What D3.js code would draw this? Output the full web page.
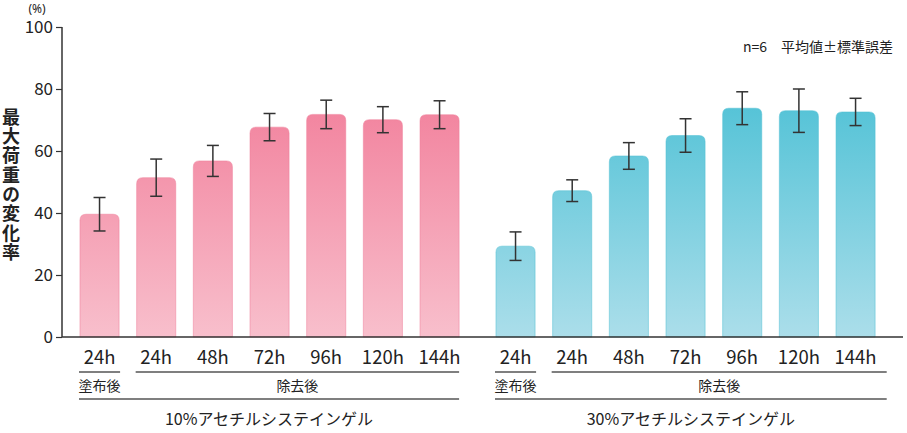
<!DOCTYPE html>
<html><head><meta charset="utf-8">
<script src="https://cdn.jsdelivr.net/npm/d3@7"></script>
<style>body{margin:0;background:#fff}text{font-family:"Noto Sans CJK JP","Noto Sans",sans-serif;fill:#222}</style>
</head><body><svg id="c" width="907" height="433"></svg>
<script>
const categories = ["24h","24h","48h","72h","96h","120h","144h"];
const groupNames = ["10%アセチルシステインゲル","30%アセチルシステインゲル"];
const phaseLabels = ["塗布後","除去後"];
const mean10 = [39.6,51.4,56.8,67.7,71.8,70.1,71.7];
const err10  = [5.4,6.0,5.0,4.4,4.6,4.2,4.5];
const mean30 = [29.3,47.2,58.4,65.0,73.8,73.0,72.6];
const err30  = [4.6,3.5,4.3,5.4,5.3,7.0,4.4];
const yTicks = [0,20,40,60,80,100];

const svg = d3.select("#c");
const y = d3.scaleLinear().domain([0,100]).range([337,27]);
const idx = d3.range(categories.length);
const xL = d3.scaleBand().domain(idx).range([71.2,467.9]).paddingInner(0.31).paddingOuter(0.155);
const xR = d3.scaleBand().domain(idx).range([487.2,883.9]).paddingInner(0.31).paddingOuter(0.155);

const defs = svg.append("defs");
function grad(id, top, bot){
  const g = defs.append("linearGradient").attr("id",id).attr("gradientUnits","userSpaceOnUse")
    .attr("x1",0).attr("x2",0).attr("y1",y(75)).attr("y2",y(0));
  g.append("stop").attr("offset","0%").attr("stop-color",top);
  g.append("stop").attr("offset","100%").attr("stop-color",bot);
}
grad("gp","#f2839e","#f8bfcc");
grad("gb","#55c3d7","#abdeea");

// y axis
const ax = svg.append("g").attr("transform","translate(62,0)")
  .call(d3.axisLeft(y).tickValues(yTicks).tickSize(6).tickPadding(3));
ax.select(".domain").attr("d","M0,"+y(100)+"V"+y(0)).attr("stroke","#333").attr("stroke-width",1.5);
ax.selectAll(".tick line").attr("stroke","#333").attr("stroke-width",1.2);
ax.selectAll(".tick text").attr("font-size",17).style("fill","#222").attr("font-family","'Noto Sans',sans-serif");
svg.append("text").attr("x",37).attr("y",13).attr("text-anchor","middle").attr("font-size",12)
  .style("font-family","'Noto Sans',sans-serif").text("(%)");

// y title vertical
svg.append("text").attr("x",11).attr("y",108).attr("font-size",18).attr("font-weight","bold")
  .style("writing-mode","vertical-rl").style("letter-spacing","1.3px").text("最大荷重の変化率");

svg.append("text").attr("x",893).attr("y",52).attr("text-anchor","end").attr("font-size",14).text("n=6　平均値±標準誤差");

function roundTop(x0,w,yt,yb,r){
  r = Math.min(r, (yb-yt));
  return `M${x0},${yb}V${yt+r}Q${x0},${yt} ${x0+r},${yt}H${x0+w-r}Q${x0+w},${yt} ${x0+w},${yt+r}V${yb}Z`;
}

function drawGroup(x, means, errs, fill, stroke, gi){
  const g = svg.append("g");
  g.selectAll("path.bar").data(idx).join("path").attr("class","bar")
    .attr("d",i=>roundTop(x(i),x.bandwidth(),y(means[i]),y(0),6))
    .attr("fill",fill).attr("stroke",stroke).attr("stroke-width",1).attr("stroke-opacity",0.5);
  const e = g.selectAll("g.err").data(idx).join("g").attr("class","err")
    .attr("stroke","#333").attr("stroke-width",1.5);
  const cx = i=>x(i)+x.bandwidth()/2;
  e.append("line").attr("x1",cx).attr("x2",cx).attr("y1",i=>y(means[i]+errs[i])).attr("y2",i=>y(means[i]-errs[i]));
  e.append("line").attr("x1",i=>cx(i)-6).attr("x2",i=>cx(i)+6).attr("y1",i=>y(means[i]+errs[i])).attr("y2",i=>y(means[i]+errs[i]));
  e.append("line").attr("x1",i=>cx(i)-6).attr("x2",i=>cx(i)+6).attr("y1",i=>y(means[i]-errs[i])).attr("y2",i=>y(means[i]-errs[i]));
  g.selectAll("text.cat").data(idx).join("text").attr("class","cat")
    .attr("x",cx).attr("y",364).attr("text-anchor","middle").attr("font-size",18.5)
    .attr("font-family","'Noto Sans',sans-serif").style("fill","#222").text(i=>categories[i]);
  const x0 = x(0)-1, x1 = x(0)+x.bandwidth()+1, x2 = x(1)-1, x3 = x.range()[1] - (gi? -2.8 : 8.8);
  const ln = (a,b,yy)=>g.append("line").attr("x1",a).attr("x2",b).attr("y1",yy).attr("y2",yy).attr("stroke","#555").attr("stroke-width",1.5);
  ln(x0,x1,372); ln(x2,x3,372); ln(x0,x3,399);
  g.append("text").attr("x",(x0+x1)/2).attr("y",391).attr("text-anchor","middle").attr("font-size",14).text(phaseLabels[0]);
  g.append("text").attr("x",(x2+x3)/2).attr("y",391).attr("text-anchor","middle").attr("font-size",14).text(phaseLabels[1]);
  g.append("text").attr("x",(x0+x3)/2).attr("y",425).attr("text-anchor","middle").attr("font-size",16).text(groupNames[gi]);
}
drawGroup(xL, mean10, err10, "url(#gp)", "#f07d99", 0);
drawGroup(xR, mean30, err30, "url(#gb)", "#4fc0d4", 1);

// baseline
svg.append("line").attr("x1",62).attr("x2",903).attr("y1",y(0)).attr("y2",y(0)).attr("stroke","#333").attr("stroke-width",1.5);
</script></body></html>
